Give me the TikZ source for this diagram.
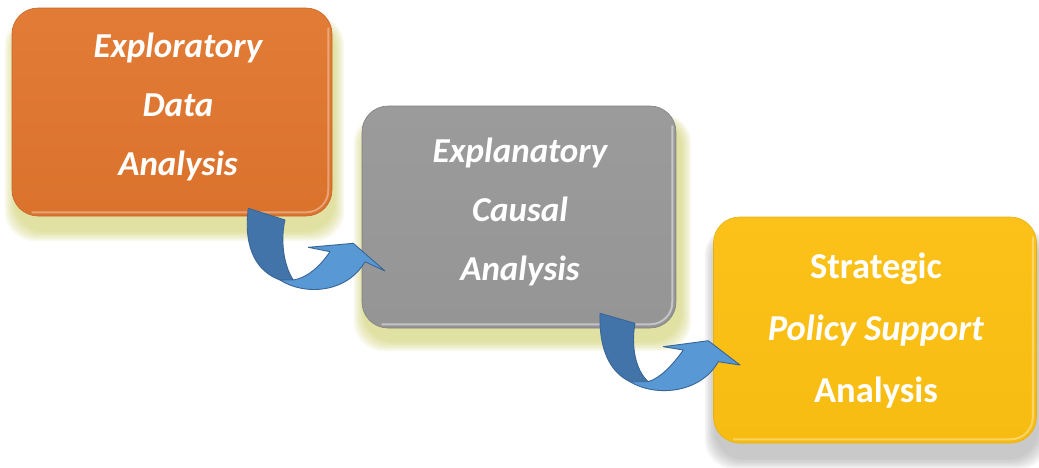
\documentclass[tikz,border=0pt]{standalone}
\usepackage{fontspec}
\setmainfont{Carlito}
\definecolor{edaOrange}{RGB}{225,118,46}
\definecolor{ecaGray}{RGB}{152,152,152}
\definecolor{spsYellow}{RGB}{252,192,18}
\definecolor{glowOlive}{RGB}{196,198,70}
\definecolor{glowGray}{RGB}{150,150,150}
\definecolor{ribbonDark}{RGB}{66,116,170}
\definecolor{ribbonLight}{RGB}{88,152,212}
\definecolor{ribbonLine}{RGB}{58,102,150}
\tikzset{
  stagebox/.style={rounded corners=26pt, inner sep=0pt, line width=0.6pt},
  stagetext/.style={text=white, align=center, font=\fontsize{35}{59}\selectfont\bfseries\itshape},
  ribbon/.style={draw=ribbonLine, line width=0.9pt, line join=round},
}
% soft glow drawn as stacked translucent rounded rectangles
\newcommand{\softglow}[6]{% x1,y1,x2,y2,color,radius
  \foreach \k in {1,...,7}{
    \fill[#5, opacity=0.09, rounded corners=#6]
      ($(#1-\k*1.6,#2-\k*0.6)$) rectangle ($(#3+\k*1.6,#4+\k*1.6)$);
  }
}
\usetikzlibrary{calc}
\begin{document}
\begin{tikzpicture}[x=1pt,y=-1pt]
\useasboundingbox (0,0) rectangle (1039,467);
\fill[white] (0,0) rectangle (1039,467);

% glows under the stages
\softglow{16}{20}{333}{230}{glowOlive}{30pt}
\softglow{365}{118}{680}{340}{glowOlive}{30pt}
\softglow{716}{230}{1037}{458}{glowGray}{30pt}

% stage boxes
\node[stagebox, minimum width=320pt, minimum height=208pt,
      top color=edaOrange!96!white, bottom color=edaOrange!97!black,
      draw=edaOrange!88!black] (eda) at (172,112) {};
\node[stagebox, minimum width=314pt, minimum height=222pt,
      top color=ecaGray!97!white, bottom color=ecaGray!98!black,
      draw=ecaGray!85!black] (eca) at (519,217) {};
\node[stagebox, minimum width=323pt, minimum height=226pt,
      top color=spsYellow!97!white, bottom color=spsYellow!98!black,
      draw=spsYellow!92!black] (sps) at (875,330) {};

% bevel highlights along the lower right rims
\draw[white, opacity=0.35, line width=2pt, rounded corners=22pt]
  ($(eda.south west)+(20,-4)$) -- ($(eda.south east)+(-4,-4)$) -- ($(eda.north east)+(-4,20)$);
\draw[white, opacity=0.45, line width=2pt, rounded corners=22pt]
  ($(eca.south west)+(20,-4)$) -- ($(eca.south east)+(-4,-4)$) -- ($(eca.north east)+(-4,20)$);
\draw[white, opacity=0.35, line width=2pt, rounded corners=22pt]
  ($(sps.south west)+(20,-4)$) -- ($(sps.south east)+(-4,-4)$) -- ($(sps.north east)+(-4,20)$);

% stage labels
\node[stagetext] (edalabel) at (178,107) {Exploratory\\Data\\Analysis};
\node[stagetext] (ecalabel) at (520,212) {Explanatory\\Causal\\Analysis};
\node[stagetext, font=\fontsize{36.5}{62}\selectfont\bfseries] (spslabel) at (876,331)
  {Strategic\\\textit{Policy Support}\\Analysis};

% curved ribbon arrow from the first to the second stage
\filldraw[ribbon, fill=ribbonDark]
  (248.3,208.3) -- (285,220) .. controls (281,236) and (282,263) .. (293.3,280)
  -- (280,280) .. controls (258,272) and (243,250) .. (248.3,208.3) -- cycle;
\filldraw[ribbon, fill=ribbonLight]
  (280,280) .. controls (305,296) and (347,293) .. (365,261.7)
  -- (385,271) -- (353.3,243.3) -- (308.3,247.3) -- (330,251.7)
  .. controls (319,268) and (306,278) .. (293.3,280) -- cycle;

% curved ribbon arrow from the second to the third stage
\filldraw[ribbon, fill=ribbonDark]
  (600,313.3) -- (635,323.3) .. controls (631,345) and (635,370) .. (648.3,381.7)
  -- (630,381.7) .. controls (610,372) and (599,350) .. (600,313.3) -- cycle;
\filldraw[ribbon, fill=ribbonLight]
  (630,381.7) .. controls (655,397) and (700,394) .. (718.3,361.7)
  -- (740,365) -- (708.3,340.7) -- (663.3,346.7) -- (683.3,350)
  .. controls (672,366) and (660,378) .. (648.3,381.7) -- cycle;
\end{tikzpicture}
\end{document}
